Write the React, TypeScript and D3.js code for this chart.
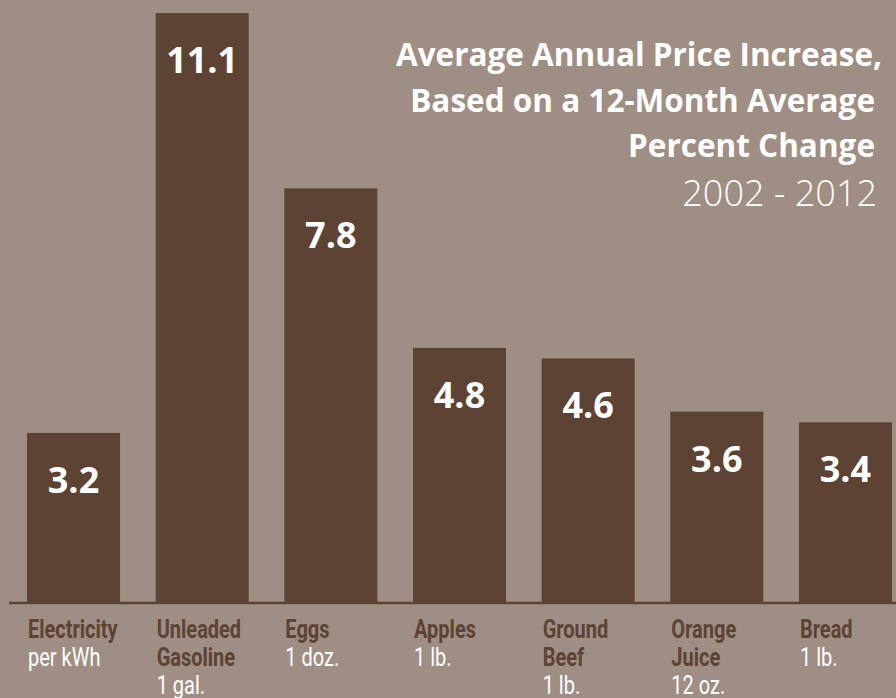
import React from "react";
import * as d3 from "d3";

const categories = ["Electricity", "Unleaded Gasoline", "Eggs", "Apples", "Ground Beef", "Orange Juice", "Bread"];
const nameLines = [["Electricity"], ["Unleaded", "Gasoline"], ["Eggs"], ["Apples"], ["Ground", "Beef"], ["Orange", "Juice"], ["Bread"]];
const units = ["per kWh", "1 gal.", "1 doz.", "1 lb.", "1 lb.", "12 oz.", "1 lb."];
const values = [3.2, 11.1, 7.8, 4.8, 4.6, 3.6, 3.4];
const titleLines = ["Average Annual Price Increase,", "Based on a 12-Month Average", "Percent Change"];
const subtitle = "2002 - 2012";

const W = 896;
const H = 698;
const BG = "#9f8e83";
const BAR = "#5c4334";
const baseY = 603;

export default function App() {
  const x = d3.scaleBand<string>().domain(categories).range([27, 892]).paddingInner(0.277).paddingOuter(0).align(0);
  const y = d3.scaleLinear().domain([0, 11.1]).range([baseY, 13]);
  const narrow = "'Roboto', 'Liberation Sans', sans-serif";
  const main = "'Open Sans', 'Lato', sans-serif";
  return (
    <svg width={W} height={H} style={{ position: "absolute", left: 0, top: 0 }}>
      <rect x={0} y={0} width={W} height={H} fill={BG} />
      {categories.map((c, i) => {
        const x0 = (x(c) as number) + 1;
        return (
          <g key={c}>
            <rect x={x(c)} y={y(values[i])} width={x.bandwidth()} height={baseY - y(values[i])} fill={BAR} />
            <text x={(x(c) as number) + x.bandwidth() / 2} y={y(values[i]) + 60} textAnchor="middle" fill="#fff"
              fontFamily={main} fontWeight={700} fontSize={36}>{values[i].toFixed(1)}</text>
            {nameLines[i].map((ln, j) => (
              <text key={j} transform={`translate(${x0},${638 + j * 28}) scale(0.8,1)`} fill={BAR} fontFamily={narrow}
                fontWeight={700} fontSize={25}>{ln}</text>
            ))}
            <text transform={`translate(${x0},${638 + nameLines[i].length * 28}) scale(0.8,1)`} fill="#fff" fontFamily={narrow}
              fontWeight={400} fontSize={25}>{units[i]}</text>
          </g>
        );
      })}
      <line x1={9} x2={W} y1={603} y2={603} stroke={BAR} strokeWidth={2.5} />
      {titleLines.map((t, i) => (
        <text key={i} x={i === 0 ? 882 : 875} y={66 + i * 45.5} textAnchor="end" fill="#fff" fontFamily={main}
          fontWeight={700} fontSize={31.5}>{t}</text>
      ))}
      <text x={877} y={206} textAnchor="end" fill="#fff" fontFamily={main} fontWeight={300} fontSize={36}>{subtitle}</text>
    </svg>
  );
}
